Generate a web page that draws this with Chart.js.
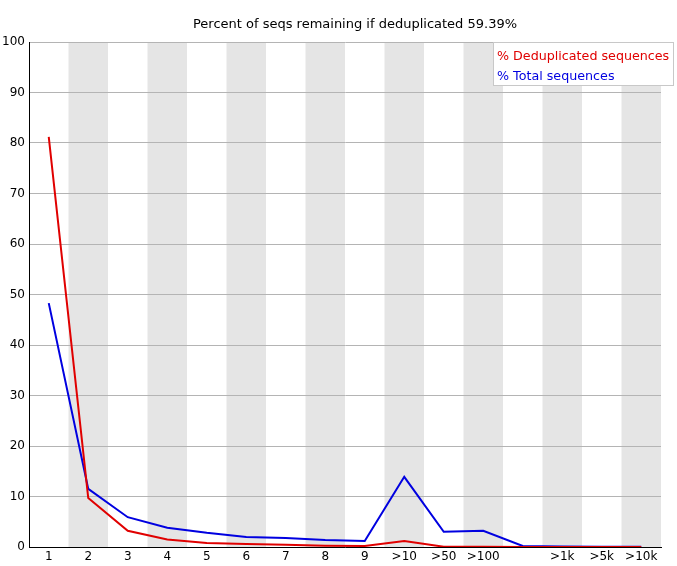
<!DOCTYPE html>
<html>
<head>
<meta charset="utf-8">
<script src="https://cdn.jsdelivr.net/npm/chart.js@4"></script>
<style>
  html, body { margin: 0; padding: 0; background: #fff; }
  #wrap { width: 677px; height: 566px; position: relative; }
</style>
</head>
<body>
<div id="wrap"><canvas id="chartDup" width="677" height="566"></canvas></div>
<script>
const categorias = ['1', '2', '3', '4', '5', '6', '7', '8', '9', '>10', '>50', '>100', '>500', '>1k', '>5k', '>10k'];
const etiquetas = ['1', '2', '3', '4', '5', '6', '7', '8', '9', '>10', '>50', '>100', '', '>1k', '>5k', '>10k'];
const deduplicadas = [81.2, 9.7, 3.2, 1.5, 0.8, 0.6, 0.45, 0.25, 0.2, 1.2, 0.05, 0.05, 0.02, 0.01, 0.01, 0.01];
const totales = [48.3, 11.5, 5.9, 3.8, 2.8, 2.0, 1.8, 1.4, 1.2, 13.9, 3.0, 3.2, 0.2, 0.1, 0.05, 0.05];
const titulo = 'Percent of seqs remaining if deduplicated 59.39%';
const leyenda = [
    { texto: '% Deduplicated sequences', color: '#e00000' },
    { texto: '% Total sequences', color: '#0000e0' }
];

const FUENTE = '"DejaVu Sans", sans-serif';

// franjas grises en las categorias pares
const franjas = {
    id: 'franjas',
    beforeDraw(chart) {
        const { ctx, chartArea: a, scales: { x } } = chart;
        const ancho = a.width / categorias.length;
        ctx.save();
        ctx.fillStyle = '#e5e5e5';
        categorias.forEach((c, i) => {
            if (i % 2 === 1) {
                const cx = x.getPixelForValue(i);
                ctx.fillRect(cx - ancho / 2, a.top, ancho, a.height);
            }
        });
        ctx.restore();
    }
};

// titulo y leyenda dibujados a mano
const extras = {
    id: 'extras',
    afterDraw(chart) {
        const { ctx } = chart;
        ctx.save();
        ctx.fillStyle = '#000';
        ctx.font = '13px ' + FUENTE;
        ctx.textAlign = 'center';
        ctx.textBaseline = 'middle';
        ctx.fillText(titulo, 355, 25);

        ctx.fillStyle = '#fff';
        ctx.fillRect(493.5, 42.5, 180, 43);
        ctx.strokeStyle = '#c8c8c8';
        ctx.lineWidth = 1;
        ctx.strokeRect(493.5, 42.5, 180, 43);
        ctx.font = '12.7px ' + FUENTE;
        ctx.textAlign = 'left';
        leyenda.forEach((l, i) => {
            ctx.fillStyle = l.color;
            ctx.fillText(l.texto, 497, 57 + i * 20);
        });
        ctx.restore();
    }
};

new Chart(document.getElementById('chartDup').getContext('2d'), {
    type: 'line',
    data: {
        labels: categorias,
        datasets: [
            {
                label: leyenda[0].texto,
                data: deduplicadas,
                borderColor: '#e00000',
                borderWidth: 2,
                pointRadius: 0,
                tension: 0,
                fill: false
            },
            {
                label: leyenda[1].texto,
                data: totales,
                borderColor: '#0000e0',
                borderWidth: 2,
                pointRadius: 0,
                tension: 0,
                fill: false
            }
        ]
    },
    options: {
        responsive: false,
        animation: false,
        layout: { padding: { top: 42, right: 16, bottom: 0, left: 0 } },
        plugins: {
            legend: { display: false },
            title: { display: false },
            tooltip: { enabled: false }
        },
        scales: {
            x: {
                offset: true,
                grid: { display: false, drawTicks: false },
                border: { color: '#000', width: 1 },
                ticks: {
                    color: '#000',
                    font: { family: FUENTE, size: 12 },
                    padding: 3,
                    maxRotation: 0,
                    autoSkip: false,
                    callback: (v, i) => etiquetas[i]
                },
                afterFit: (s) => { s.height = 19; }
            },
            y: {
                min: 0,
                max: 100,
                grid: { color: '#b4b4b4', drawTicks: false, lineWidth: 1 },
                border: { color: '#000', width: 1 },
                ticks: {
                    stepSize: 10,
                    color: '#000',
                    font: { family: FUENTE, size: 12 },
                    padding: 4
                },
                afterFit: (s) => { s.width = 29; }
            }
        }
    },
    plugins: [franjas, extras]
});
</script>
</body>
</html>
